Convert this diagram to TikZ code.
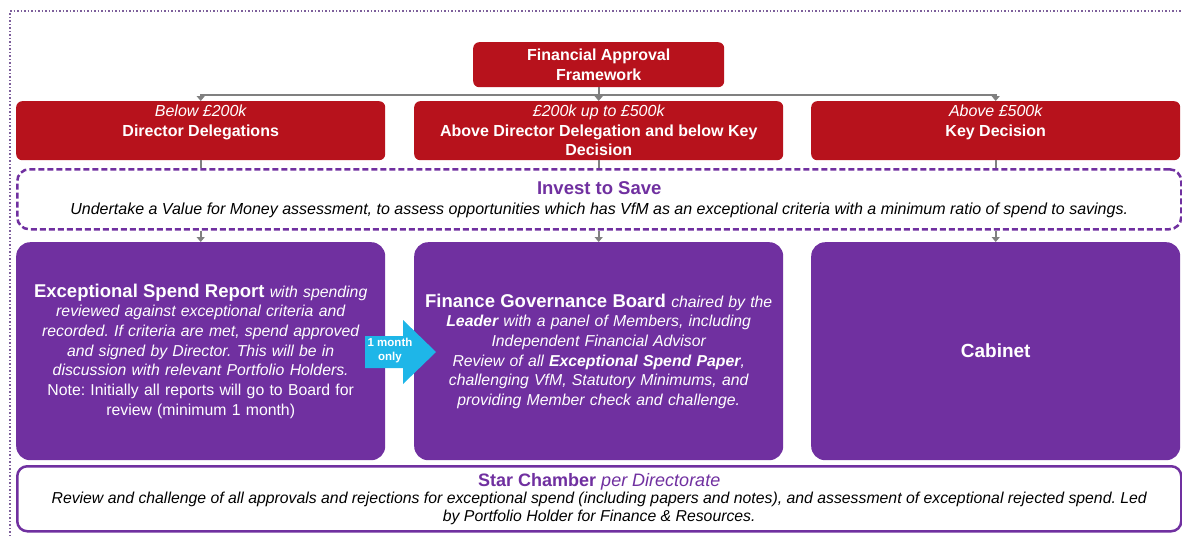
\documentclass[tikz,border=0pt]{standalone}
\usepackage{fontspec}
\setmainfont{Liberation Sans}
\usetikzlibrary{arrows.meta}
\definecolor{fred}{RGB}{183,18,28}
\definecolor{fpurp}{RGB}{112,48,160}
\definecolor{fcyan}{RGB}{30,182,232}
\definecolor{fgrey}{RGB}{128,128,128}
\definecolor{fdot}{RGB}{125,95,155}
\frenchspacing
\begin{document}
\begin{tikzpicture}[x=1pt,y=-1pt,
  redbox/.style={fill=fred, rounded corners=6pt, draw=none, inner sep=0pt, anchor=north west, minimum width=369pt, minimum height=59pt},
  redtxt/.style={text=white, align=center, inner sep=0pt, anchor=north, font=\fontsize{16}{19.5}\selectfont},
  pbox/.style={fill=fpurp, rounded corners=14pt, draw=none, inner sep=0pt, anchor=north west, minimum width=369pt, minimum height=218pt, text=white, align=center, text width=366pt, font=\fontsize{15.8}{19.7}\selectfont},
  dbox/.style={draw=fpurp, dash pattern=on 6pt off 3pt, line width=2.5pt, rounded corners=12pt, inner sep=0pt, anchor=north west, minimum width=1164pt, minimum height=60pt, align=center, font=\fontsize{16}{20}\selectfont},
  sbox/.style={draw=fpurp, fill=white, line width=2.5pt, rounded corners=10pt, inner sep=0pt, anchor=north west, minimum width=1164pt, minimum height=65pt, align=center, font=\fontsize{15.8}{17.5}\selectfont},
  conn/.style={draw=fgrey, line width=2pt, -{Triangle[length=5pt,width=8pt]}},
  gline/.style={draw=fgrey, line width=2pt},
  frame/.style={draw=fdot, line width=1.5pt, dotted}
]
\useasboundingbox (0,0) rectangle (1182,536);
\draw[frame] (10,536) -- (10,11) -- (1182,11);

% top node
\node[fill=fred, rounded corners=6pt, inner sep=0pt, anchor=north west, minimum width=251pt, minimum height=45pt, text=white, align=center, font=\bfseries\fontsize{16}{19.5}\selectfont] (fa) at (473,42) {Financial Approval\\Framework};

% red boxes
\node[redbox] (b1) at (16,101) {};
\node[redbox] (b2) at (414,101) {};
\node[redbox] (b3) at (811,101) {};
\node[redtxt] (t1) at ([yshift=-4pt]b1.north) {\itshape Below £200k\\\bfseries Director Delegations};
\node[redtxt] (t2) at ([yshift=-4pt]b2.north) {\itshape £200k up to £500k\\\bfseries Above Director Delegation and below Key\\\bfseries Decision};
\node[redtxt] (t3) at ([yshift=-4pt]b3.north) {\itshape Above £500k\\\bfseries Key Decision};

% connectors from top
\coordinate (j) at (598,95);
\draw[conn] (fa.south) -- (b2.north);
\draw[conn] (j) -| (b1.north);
\draw[conn] (j) -| (b3.north);

% invest to save
\node[dbox] (its) at (16,168) {{\color{fpurp}\bfseries\fontsize{18.5}{20}\selectfont Invest to Save}\\\itshape Undertake a Value for Money assessment, to assess opportunities which has VfM as an exceptional criteria with a minimum ratio of spend to savings.};

\draw[gline] (b1.south) -- (b1.south |- its.north);
\draw[gline] (b2.south) -- (b2.south |- its.north);
\draw[gline] (b3.south) -- (b3.south |- its.north);

% purple boxes
\node[pbox] (p1) at (16,242) {{\bfseries\fontsize{18.5}{19.7}\selectfont Exceptional Spend Report} \itshape with spending\\\itshape reviewed against exceptional criteria and\\\itshape recorded. If criteria are met, spend approved\\\itshape and signed by Director. This will be in\\\itshape discussion with relevant Portfolio Holders.\\\upshape Note: Initially all reports will go to Board for\\\upshape review (minimum 1 month)};
\node[pbox] (p2) at (414,242) {{\bfseries\fontsize{18.5}{19.7}\selectfont Finance Governance Board} \itshape chaired by the\\\itshape\textbf{Leader} with a panel of Members, including\\\itshape Independent Financial Advisor\\\itshape Review of all \textbf{Exceptional Spend Paper},\\\itshape challenging VfM, Statutory Minimums, and\\\itshape providing Member check and challenge.};
\node[pbox, font=\bfseries\fontsize{19}{19.7}\selectfont] (p3) at (811,242) {Cabinet};

\draw[conn] (its.south -| p1.north) -- (p1.north);
\draw[conn] (its.south -| p2.north) -- (p2.north);
\draw[conn] (its.south -| p3.north) -- (p3.north);

% cyan arrow
\fill[fcyan] (365,336) -- (403,336) -- (403,320) -- (436,352) -- (403,384) -- (403,368) -- (365,368) -- cycle;
\node[text=white, align=center, inner sep=0pt, font=\bfseries\fontsize{11.5}{14}\selectfont] (mo) at (390,351) {1 month\\only};

% star chamber
\node[sbox] (sc) at (16,465) {{\color{fpurp}\fontsize{18}{17.5}\selectfont\textbf{Star Chamber} \textit{per Directorate}}\\\itshape Review and challenge of all approvals and rejections for exceptional spend (including papers and notes), and assessment of exceptional rejected spend. Led\\\itshape by Portfolio Holder for Finance \& Resources.};
\end{tikzpicture}
\end{document}
